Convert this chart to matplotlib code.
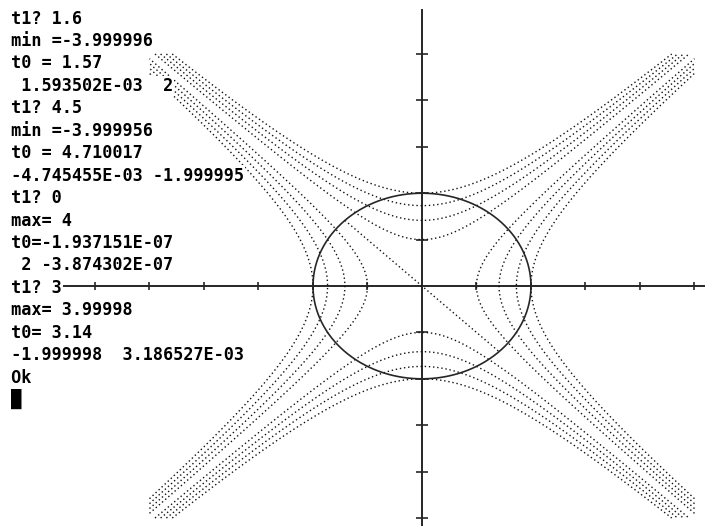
import numpy as np
import matplotlib
matplotlib.use('Agg')
import matplotlib.pyplot as plt

# --- session log printed over the graphics screen
log_lines = ["t1? 1.6", "min =-3.999996", "t0 = 1.57", " 1.593502E-03  2",
             "t1? 4.5", "min =-3.999956", "t0 = 4.710017", "-4.745455E-03 -1.999995",
             "t1? 0", "max= 4", "t0=-1.937151E-07", " 2 -3.874302E-07",
             "t1? 3", "max= 3.99998", "t0= 3.14", "-1.999998  3.186527E-03",
             "Ok", "\u2588"]

# level values of f = x^2 - y^2 (and of y^2 - x^2)
levels = [1, 2, 3, 4]
radius = 2          # constraint circle
box = 5             # curves are drawn inside [-box, box]
x_ticks = [-7, -6, -5, -4, -3, -2, -1, 1, 2, 3, 4, 5]
y_ticks = [-5, -4, -3, -2, -1, 1, 2, 3, 4, 5]

W, H = 705, 526
fig = plt.figure(figsize=(W / 100, H / 100), dpi=100)
ax = fig.add_axes([0, 0, 1, 1])
ax.set_xlim(-7.743, 5.193)
ax.set_ylim(-5.172, 6.164)
ax.axis('off')

axis_col = '#262626'
dot_col = '#111111'
dots = dict(color=dot_col, lw=1.0, ls=(0, (1, 2.0)), dash_capstyle='butt')

# axes with tick marks
ax.plot([-7.743, 5.193], [0, 0], color=axis_col, lw=1.4, zorder=2)
ax.plot([0, 0], [-5.172, 5.95], color=axis_col, lw=1.4, zorder=2)
ax.plot(x_ticks, np.zeros(len(x_ticks)), ls='none', marker='|', ms=6,
        mew=1.2, color=axis_col, zorder=2)
ax.plot(np.zeros(len(y_ticks)), y_ticks, ls='none', marker='_', ms=8.5,
        mew=1.2, color=axis_col, zorder=2)

# level curves x^2 - y^2 = c and y^2 - x^2 = c
for c in levels:
    lim = np.sqrt(box**2 - c)
    s = np.linspace(-lim, lim, 600)
    r = np.sqrt(c + s**2)
    for sign in (1, -1):
        ax.plot(sign * r, s, **dots)     # opens left/right
        ax.plot(s, sign * r, **dots)     # opens up/down

# level 0 inside the circle
a = np.array([3 * np.pi / 4, -np.pi / 4])
ax.plot(radius * np.cos(a), radius * np.sin(a), **dots)

# constraint circle
t = np.linspace(0, 2 * np.pi, 400)
ax.plot(radius * np.cos(t), radius * np.sin(t), color=axis_col, lw=1.2, zorder=3)

# text screen, one character cell of margin on the left
for i, s in enumerate(log_lines):
    y_px = 17 + 22.45 * i + 6.5
    fig.text(1 / W, 1 - y_px / H, " " + s, family='DejaVu Sans Mono',
             weight='bold', fontsize=12.2, color='black', va='baseline',
             ha='left', zorder=5,
             bbox=dict(facecolor='white', edgecolor='none', pad=0.8))

fig.savefig('out.png', dpi=100, facecolor='white')
